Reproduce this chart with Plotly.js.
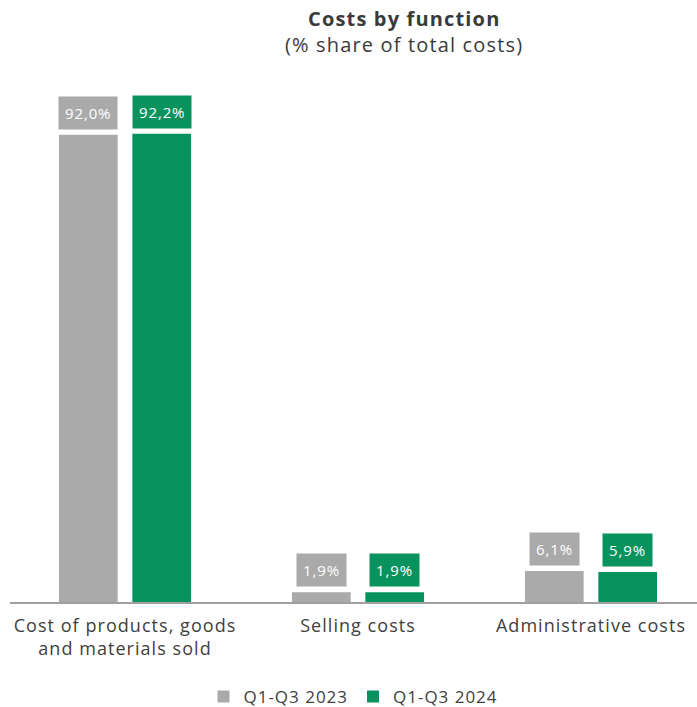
<!DOCTYPE html>
<html><head><meta charset="utf-8">
<script src="https://cdn.plot.ly/plotly-3.0.1.min.js"></script>
<style>html,body{margin:0;padding:0;background:#fff}#chart{width:697px;height:707px}svg text{letter-spacing:0.058em}</style>
</head><body><div id="chart"></div>
<script>
const categories = ["Cost of products, goods<br>and materials sold", "Selling costs", "Administrative costs"];
const series2023 = [92.0, 1.9, 6.1];
const series2024 = [92.2, 1.9, 5.9];
const labels2023 = ["92,0%", "1,9%", "6,1%"];
const labels2024 = ["92,2%", "1,9%", "5,9%"];
const seriesNames = ["Q1-Q3 2023", "Q1-Q3 2024"];

const gray = "#aaaaaa", green = "#08935e";
const idx = categories.map((c, i) => i);
const off = 0.158;

const traces = [
  {type: "bar", x: idx, y: series2023, name: seriesNames[0], marker: {color: gray}, hoverinfo: "skip"},
  {type: "bar", x: idx, y: series2024, name: seriesNames[1], marker: {color: green}, hoverinfo: "skip"}
];

const annotations = [];
idx.forEach(i => {
  annotations.push({x: i - off, y: series2023[i], xref: "x", yref: "y", text: labels2023[i], showarrow: false,
    yanchor: "bottom", yshift: 5, bgcolor: gray, borderpad: 6, font: {family: "Open Sans", size: 15, color: "#fff"}});
  annotations.push({x: i + off, y: series2024[i], xref: "x", yref: "y", text: labels2024[i], showarrow: false,
    yanchor: "bottom", yshift: 5, bgcolor: green, borderpad: 6, font: {family: "Open Sans", size: 15, color: "#fff"}});
});
annotations.push({xref: "paper", yref: "paper", x: 0.573, y: 1, yshift: 62, yanchor: "middle", showarrow: false,
  text: "<b>Costs by function</b>", font: {family: "Open Sans", size: 20, color: "#3a3a3a"}});
annotations.push({xref: "paper", yref: "paper", x: 0.573, y: 1, yshift: 36, yanchor: "middle", showarrow: false,
  text: "(% share of total costs)", font: {family: "Open Sans", size: 20, color: "#3a3a3a"}});

const layout = {
  width: 697, height: 707,
  margin: {l: 10, r: 0, t: 80, b: 105, autoexpand: false},
  paper_bgcolor: "#fff", plot_bgcolor: "#fff",
  barmode: "group", bargap: 0.37, bargroupgap: 0.2,
  showlegend: true,
  legend: {orientation: "h", x: 0.5, xanchor: "center", y: -0.182, yanchor: "middle",
    font: {family: "Open Sans", size: 17, color: "#404040"}, itemwidth: 30, traceorder: "normal"},
  xaxis: {range: [-0.4936, 2.455], tickmode: "array", tickvals: idx, ticktext: categories,
    automargin: false,
    showline: true, linecolor: "#a0a0a0", linewidth: 2, ticks: "", showgrid: false, zeroline: false,
    ticklabelstandoff: 6,
    tickfont: {family: "Open Sans", size: 18, color: "#404040"}},
  yaxis: {range: [0, 102.8], visible: false, showgrid: false, zeroline: false, automargin: false},
  annotations: annotations
};
Plotly.newPlot("chart", traces, layout, {displayModeBar: false, staticPlot: true});
</script></body></html>
